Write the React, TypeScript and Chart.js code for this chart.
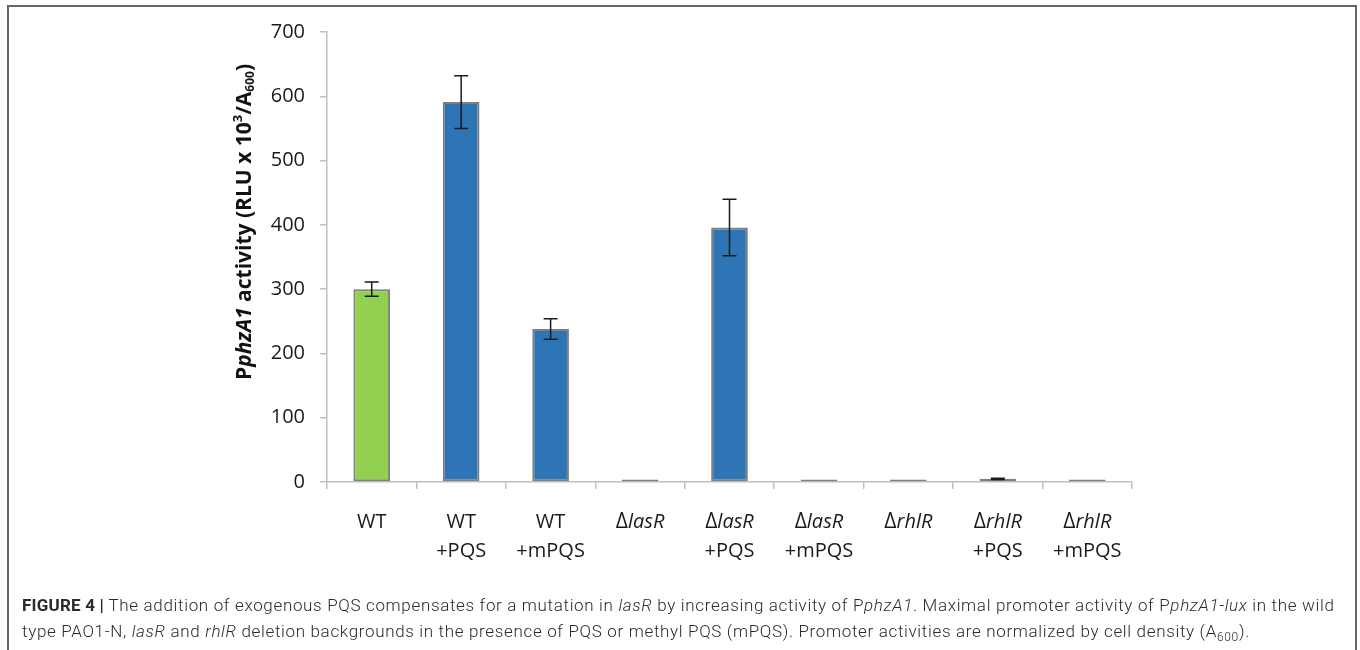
import React, { useEffect, useRef } from "react";
import { Chart, registerables } from "chart.js";

Chart.register(...registerables);

const categories = ["WT", "WT +PQS", "WT +mPQS", "ΔlasR", "ΔlasR +PQS", "ΔlasR +mPQS", "ΔrhlR", "ΔrhlR +PQS", "ΔrhlR +mPQS"];
const values = [300, 591, 238, 4, 396, 4, 4, 5, 4];
const errors = [11, 41, 16, 0, 44, 0, 0, 1, 0];
const barColors = ["#92d050", "#2e75b6", "#2e75b6", "#2e75b6", "#2e75b6", "#2e75b6", "#2e75b6", "#2e75b6", "#2e75b6"];
const yTicks = [0, 100, 200, 300, 400, 500, 600, 700];

const FONT = "'Open Sans', 'Noto Sans', sans-serif";

const extrasPlugin = {
  id: "extras",
  afterDatasetsDraw(chart: any) {
    const ctx = chart.ctx;
    const xs = chart.scales.x;
    const ys = chart.scales.y;
    ctx.save();
    ctx.strokeStyle = "#1a1a1a";
    ctx.lineWidth = 1.5;
    values.forEach((v, i) => {
      const e = errors[i];
      if (!e) return;
      const x = xs.getPixelForValue(i);
      const yt = ys.getPixelForValue(v + e);
      const yb = ys.getPixelForValue(v - e);
      ctx.beginPath();
      ctx.moveTo(x, yt);
      ctx.lineTo(x, yb);
      ctx.moveTo(x - 7, yt);
      ctx.lineTo(x + 7, yt);
      ctx.moveTo(x - 7, yb);
      ctx.lineTo(x + 7, yb);
      ctx.stroke();
    });
    ctx.restore();
  },
  afterDraw(chart: any) {
    const ctx = chart.ctx;
    const xs = chart.scales.x;
    ctx.save();
    ctx.fillStyle = "#1a1a1a";
    ctx.textBaseline = "alphabetic";
    const baselines = [528, 557];
    categories.forEach((c, i) => {
      const x = xs.getPixelForValue(i);
      const lines = c.split(" ");
      lines.forEach((ln, li) => {
        const y = baselines[li];
        if (ln.startsWith("Δ")) {
          const rest = ln.slice(1);
          ctx.font = `21px ${FONT}`;
          const w1 = ctx.measureText("Δ").width;
          ctx.font = `italic 20px ${FONT}`;
          const w2 = ctx.measureText(rest).width;
          const start = x - (w1 + w2) / 2;
          ctx.textAlign = "left";
          ctx.font = `21px ${FONT}`;
          ctx.fillText("Δ", start, y);
          ctx.font = `italic 20px ${FONT}`;
          ctx.fillText(rest, start + w1, y);
        } else {
          ctx.font = `20px ${FONT}`;
          ctx.textAlign = "center";
          ctx.fillText(ln, x, y);
        }
      });
    });
    ctx.restore();

    ctx.save();
    ctx.translate(245, 222);
    ctx.rotate(-Math.PI / 2);
    ctx.fillStyle = "#111";
    ctx.textBaseline = "middle";
    ctx.textAlign = "left";
    const parts = [
      { t: "P", f: `bold 21px ${FONT}`, dy: 0 },
      { t: "phzA1", f: `italic bold 21px ${FONT}`, dy: 0 },
      { t: " activity (RLU x 10", f: `bold 21px ${FONT}`, dy: 0 },
      { t: "3", f: `bold 13px ${FONT}`, dy: -7 },
      { t: "/A", f: `bold 21px ${FONT}`, dy: 0 },
      { t: "600", f: `bold 12px ${FONT}`, dy: 6 },
      { t: ")", f: `bold 21px ${FONT}`, dy: 0 },
    ];
    let total = 0;
    parts.forEach((p) => {
      ctx.font = p.f;
      total += ctx.measureText(p.t).width;
    });
    let cx = -total / 2;
    parts.forEach((p) => {
      ctx.font = p.f;
      ctx.fillText(p.t, cx, p.dy);
      cx += ctx.measureText(p.t).width;
    });
    ctx.restore();
  },
};

export default function App() {
  const ref = useRef<HTMLCanvasElement>(null);
  useEffect(() => {
    const chart = new Chart(ref.current as HTMLCanvasElement, {
      type: "bar",
      data: {
        labels: categories,
        datasets: [
          {
            data: values,
            backgroundColor: barColors,
            borderColor: "#7f7f7f",
            borderWidth: 2,
            borderSkipped: false,
            barPercentage: 0.41,
            categoryPercentage: 1,
          },
        ],
      },
      options: {
        animation: false,
        responsive: false,
        maintainAspectRatio: false,
        layout: { padding: { left: 267, right: 228, top: 32, bottom: 148 } },
        plugins: { legend: { display: false }, tooltip: { enabled: false } },
        scales: {
          x: {
            afterFit: (s: any) => {
              s.height = 20;
            },
            grid: {
              display: true,
              drawOnChartArea: false,
              drawTicks: true,
              tickLength: 7,
              color: "#bfbfbf",
              lineWidth: 1.5,
              offset: true,
            },
            border: { display: true, color: "#bfbfbf", width: 1.5 },
            ticks: { display: false },
          },
          y: {
            min: 0,
            max: 700,
            afterFit: (s: any) => {
              s.width = 60;
            },
            afterBuildTicks: (s: any) => {
              s.ticks = yTicks.map((v) => ({ value: v }));
            },
            grid: {
              display: true,
              drawOnChartArea: false,
              drawTicks: true,
              tickLength: 7,
              color: "#bfbfbf",
              lineWidth: 1.5,
            },
            border: { display: true, color: "#bfbfbf", width: 1.5 },
            ticks: {
              padding: 15,
              color: "#1a1a1a",
              font: { family: FONT, size: 20 },
            },
          },
        },
      },
      plugins: [extrasPlugin],
    } as any);
    return () => chart.destroy();
  }, []);

  const cap: React.CSSProperties = {
    position: "absolute",
    left: 22,
    fontFamily: "Roboto, 'Liberation Sans', sans-serif",
    fontWeight: 300,
    fontSize: 17,
    letterSpacing: "0.66px",
    color: "#2b2b2b",
    whiteSpace: "nowrap",
    lineHeight: "20px",
  };

  return (
    <div style={{ position: "fixed", left: 0, top: 0, width: 1360, height: 650, overflow: "hidden", background: "#fff" }}>
      <div
        style={{
          position: "absolute",
          left: 7,
          top: 5,
          width: 1346,
          height: 700,
          border: "2px solid #666",
        }}
      />
      <canvas ref={ref} width={1360} height={650} style={{ position: "absolute", left: 0, top: 0 }} />
      <div style={{ ...cap, top: 595 }}>
        <b style={{ fontWeight: 700, letterSpacing: "0.2px" }}>FIGURE 4 |</b> The addition of exogenous PQS compensates for a mutation in <i>lasR</i> by increasing activity of P<i>phzA1</i>. Maximal promoter activity of P<i>phzA1-lux</i> in the wild
      </div>
      <div style={{ ...cap, top: 621 }}>
        type PAO1-N, <i>lasR</i> and <i>rhlR</i> deletion backgrounds in the presence of PQS or methyl PQS (mPQS). Promoter activities are normalized by cell density (A<sub style={{ fontSize: 12, lineHeight: 0 }}>600</sub>).
      </div>
    </div>
  );
}
